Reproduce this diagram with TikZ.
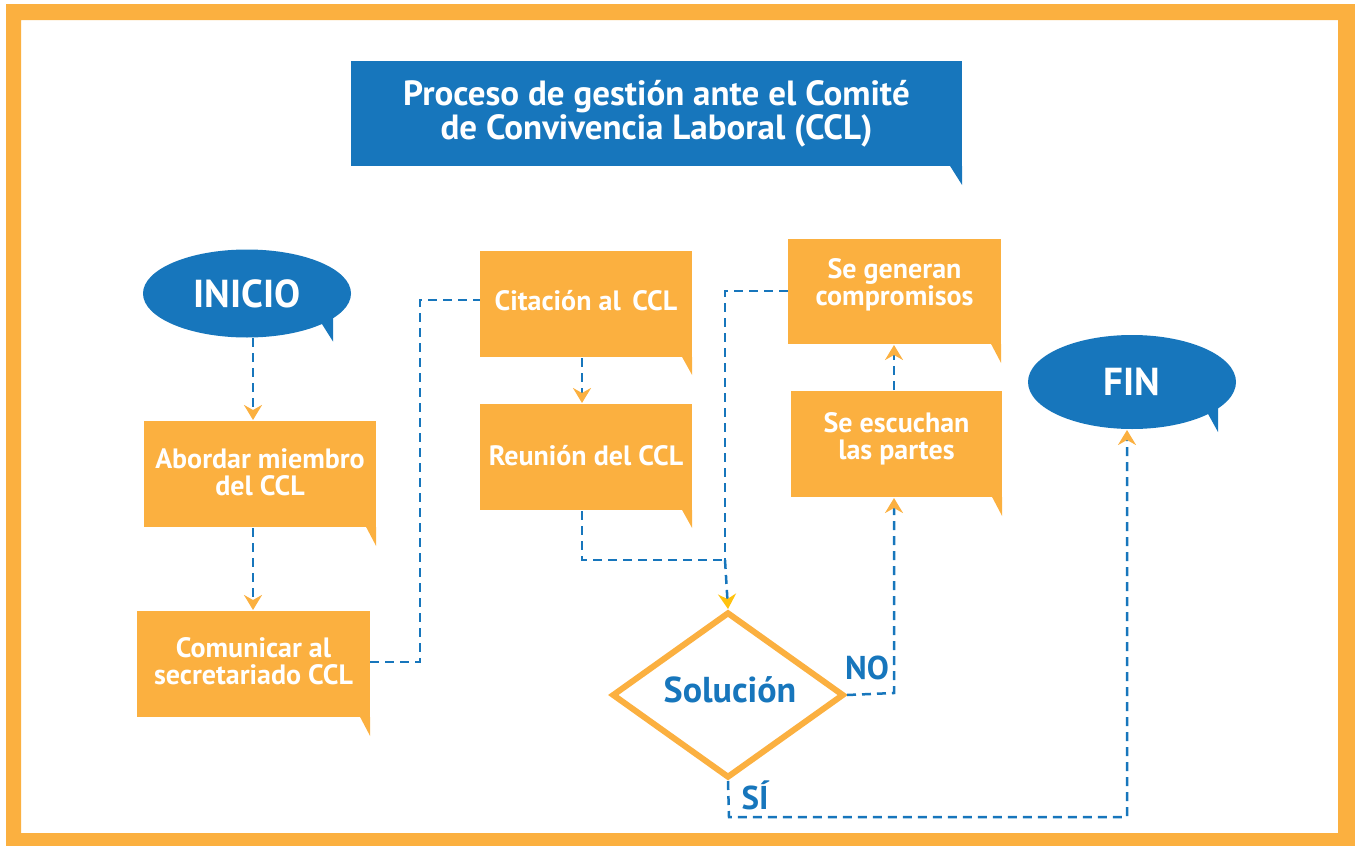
\documentclass[tikz,border=0pt]{standalone}
\usepackage{fontspec}
\setmainfont{PT Sans}
\usetikzlibrary{shapes.geometric,arrows.meta,calc}
\definecolor{orng}{HTML}{FBB040}
\definecolor{blu}{HTML}{1776BC}
\definecolor{yel}{HTML}{FFC20E}
\tikzset{
  stepbox/.style={fill=orng, draw=none, inner sep=0pt},
  boxtext/.style={text=white, font=\fontsize{28}{27}\selectfont\bfseries, align=center, inner sep=0pt},
  oval/.style={ellipse, fill=blu, draw=none, text=white, font=\fontsize{39}{40}\selectfont\bfseries, inner sep=0pt, minimum width=208pt},
  flow/.style={draw=blu, line width=2.5pt, dash pattern=on 9pt off 6pt},
  arr/.style={flow, -{Stealth[length=15pt,width=18pt,inset=5pt,color=orng]}},
  arry/.style={flow, -{Stealth[length=15pt,width=18pt,inset=5pt,color=yel]}},
  lbl/.style={text=blu, font=\fontsize{33}{34}\selectfont\bfseries, inner sep=0pt},
}
\begin{document}
\begin{tikzpicture}[x=1pt,y=-1pt]
\useasboundingbox (0,0) rectangle (1355,846);
% frame
\fill[orng, even odd rule] (6,4) rectangle (1355,846) (21,20) rectangle (1338,833);
% title
\node[fill=blu, text=white, font=\fontsize{35}{34}\selectfont\bfseries, align=center, minimum width=611pt, minimum height=105pt, inner sep=0pt] (title) at (656.5,113.5) {Proceso de gestión ante el Comité\\de Convivencia Laboral (CCL)};
\fill[blu] ([xshift=-12pt]title.south east) -- (title.south east) -- ([yshift=-19pt]title.south east) -- cycle;
% ovals
\node[oval, minimum height=88pt] (inicio) at (247,293.5) {INICIO};
\fill[blu] ($(inicio.center)+(74,29)$) -- ($(inicio.center)+(86,48)$) -- ($(inicio.center)+(86,18)$) -- cycle;
\node[oval, minimum height=94pt] (fin) at (1132,382) {FIN};
\fill[blu] ($(fin.center)+(75,30)$) -- ($(fin.center)+(86,50)$) -- ($(fin.center)+(86,20)$) -- cycle;
% boxes
\node[stepbox, minimum width=232pt, minimum height=106pt] (abordar) at (260,474) {};
\node[stepbox, minimum width=233pt, minimum height=106pt] (comunicar) at (253.5,664) {};
\node[stepbox, minimum width=212pt, minimum height=106pt] (citacion) at (586,304) {};
\node[stepbox, minimum width=212pt, minimum height=106pt] (reunion) at (586,457) {};
\node[stepbox, minimum width=213pt, minimum height=105pt] (generan) at (894.5,291.5) {};
\node[stepbox, minimum width=211pt, minimum height=106pt] (escuchan) at (896.5,444) {};
\foreach \b/\t in {abordar/19,comunicar/19,citacion/18,reunion/18,generan/19,escuchan/19}{
  \fill[orng] ([xshift=-10pt]\b.south east) -- (\b.south east) -- ([yshift=-\t pt]\b.south east) -- cycle;
}
\node[boxtext] (abordar-t) at ($(abordar.center)+(0,-2)$) {Abordar miembro\\del CCL};
\node[boxtext] (comunicar-t) at ($(comunicar.center)+(0,-3)$) {Comunicar al\\secretariado CCL};
\node[boxtext] (citacion-t) at ($(citacion.center)+(0,-3)$) {Citación al\, CCL};
\node[boxtext] (reunion-t) at ($(reunion.center)+(0,-1)$) {Reunión del CCL};
\node[boxtext] (generan-t) at ($(generan.center)+(0,-7)$) {Se generan\\compromisos};
\node[boxtext] (escuchan-t) at ($(escuchan.center)+(0,-5)$) {Se escuchan\\las partes};
% decision
\node[diamond, draw=orng, line width=6pt, fill=white, minimum width=232pt, minimum height=166pt, inner sep=0pt] (sol) at (728,695) {};
\node[text=blu, font=\fontsize{36}{38}\selectfont\bfseries, inner sep=0pt] (sol-t) at (730,690) {Solución};
% connectors
\draw[arr] (253,338) -- (253,420);
\draw[arr] (253,528) -- (253,610);
\draw[flow] (comunicar.east |- 0,662) -- (420,662) -- (420,300) -- (citacion.west |- 0,300);
\draw[arr] (582,358) -- (582,403);
\draw[flow] (582,511) -- (582,560) -- (725,560);
\draw[flow] (generan.west |- 0,291) -- (725,291) -- (725,560);
\draw[arry] (725,560) -- (sol.north);
\draw[arr] (sol.east) -- (894,693) -- (894,498);
\draw[arr] (894,390) -- (894,345);
\draw[arr] (sol.south) -- (729,817) -- (1127,817) -- (1127,430);
% labels
\node[lbl] (no) at (867,668) {NO};
\node[lbl] (si) at (755,795) {SÍ};
\end{tikzpicture}
\end{document}
